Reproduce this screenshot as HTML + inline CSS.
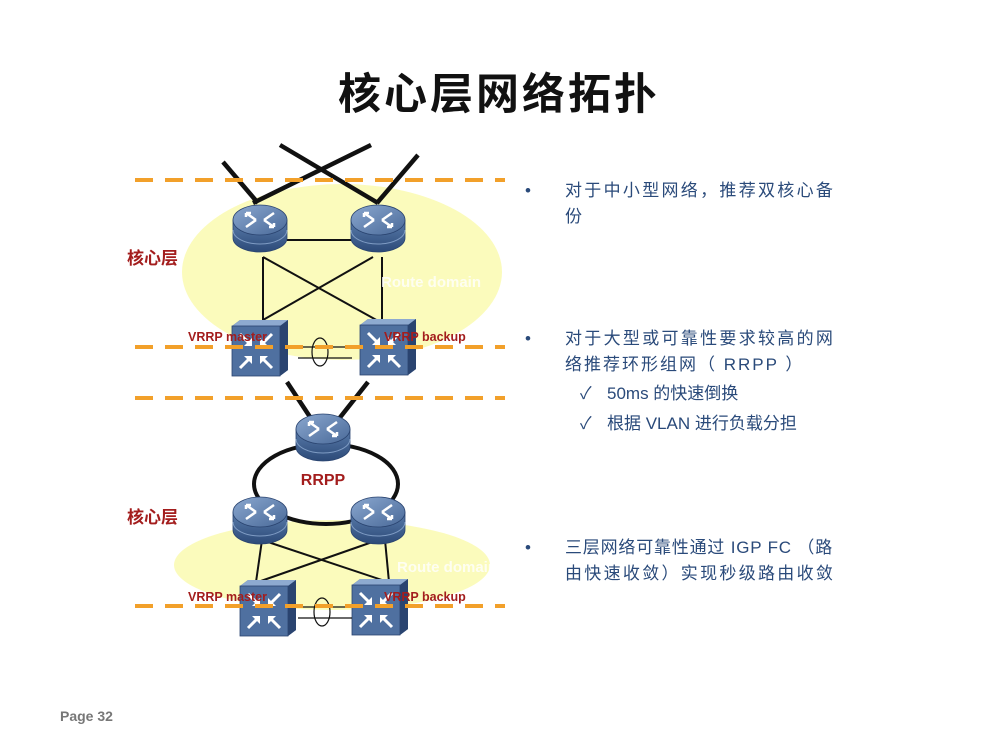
<!DOCTYPE html>
<html><head><meta charset="utf-8"><style>
body{margin:0;background:#fff;}
svg text{font-family:"Liberation Sans","Noto Sans CJK SC",sans-serif;}
</style></head><body>
<svg width="1000" height="750" viewBox="0 0 1000 750" xmlns="http://www.w3.org/2000/svg">
<defs>
<linearGradient id="rb" x1="0" x2="0" y1="0" y2="1"><stop offset="0" stop-color="#5a7cab"/><stop offset="1" stop-color="#2c4a78"/></linearGradient>
<linearGradient id="rt" x1="0" x2="1" y1="0" y2="1"><stop offset="0" stop-color="#8aa7cf"/><stop offset="1" stop-color="#4a6a99"/></linearGradient>
<g id="router">
<path d="M-27,-8 L-27,10 A27,14 0 0 0 27,10 L27,-8 Z" fill="url(#rb)" stroke="#2a4470" stroke-width="0.8"/>
<path d="M-27,2 A27,14 0 0 0 27,2" fill="none" stroke="#7f9cc4" stroke-width="1"/>
<ellipse cx="0" cy="-8" rx="27" ry="15" fill="url(#rt)" stroke="#2a4470" stroke-width="0.8"/>
<g stroke="#fff" stroke-width="2.5" fill="none">
<path d="M-14,-15 L-4,-8 M-14,-15 l5,0 M-14,-15 l0,4"/>
<path d="M14,-1 L4,-8 M14,-1 l-5,0 M14,-1 l0,-4"/>
<path d="M-14,-1 L-4,-8"/><path d="M14,-15 L4,-8"/>
</g>
</g>
<g id="switch">
<path d="M0,6 L8,0 L56,0 L56,50 L48,56 L0,56 Z" fill="#3d5f8e"/>
<path d="M0,6 L8,0 L56,0 L48,6 Z" fill="#8eaad0"/>
<path d="M48,6 L56,0 L56,50 L48,56 Z" fill="#2a4470"/>
<rect x="0" y="6" width="48" height="50" fill="#4f70a0" stroke="#2a4470" stroke-width="0.8"/>
<g stroke="#fff" stroke-width="3" fill="none">
<path d="M8,14 L19,25 M8,48 L19,37 M40,14 L29,25 M40,48 L29,37"/>
</g>
<g fill="#fff"><path d="M20,26 l-8,0 l8,-8z"/><path d="M20,36 l-8,0 l8,8z"/><path d="M28,26 l8,0 l-8,-8z"/><path d="M28,36 l8,0 l-8,8z"/></g>
</g>
</defs>

<text x="499" y="109" font-size="43" font-weight="bold" text-anchor="middle" fill="#111" letter-spacing="3">核心层网络拓扑</text>

<!-- top section -->
<ellipse cx="342" cy="272" rx="160" ry="88" fill="#fafab0" opacity="0.85"/>
<g stroke="#111" stroke-width="4.5">
<line x1="223" y1="162" x2="258" y2="203"/>
<line x1="280" y1="145" x2="378" y2="203"/>
<line x1="371" y1="145" x2="253" y2="203"/>
<line x1="418" y1="155" x2="377" y2="203"/>
</g>
<g stroke="#111" stroke-width="2">
<line x1="287" y1="240" x2="353" y2="240"/>
<line x1="263" y1="257" x2="263" y2="320"/>
<line x1="382" y1="257" x2="382" y2="322"/>
<line x1="263" y1="257" x2="380" y2="322"/>
<line x1="373" y1="257" x2="263" y2="320"/>
</g>
<use href="#router" x="260" y="228"/>
<use href="#router" x="378" y="228"/>
<use href="#switch" x="232" y="320"/>
<use href="#switch" x="360" y="319"/>
<g stroke="#111" stroke-width="1.2" fill="none">
<line x1="298" y1="347" x2="352" y2="347"/><line x1="298" y1="358" x2="352" y2="358"/>
<ellipse cx="320" cy="352" rx="8" ry="14"/>
</g>
<text x="381" y="287" font-size="15" font-weight="bold" fill="#fff" opacity="0.8">Route domain</text>
<line x1="135" y1="180" x2="505" y2="180" stroke="#f2a02a" stroke-width="4" stroke-dasharray="18,12"/>
<line x1="135" y1="347" x2="505" y2="347" stroke="#f2a02a" stroke-width="4" stroke-dasharray="18,12"/>
<text x="188" y="341" font-size="12.5" font-weight="bold" fill="#a31d1d">VRRP master</text>
<text x="384" y="341" font-size="12.5" font-weight="bold" fill="#a31d1d">VRRP backup</text>
<text x="127" y="264" font-size="17" font-weight="bold" fill="#a31d1d">核心层</text>

<!-- bottom section -->
<ellipse cx="332" cy="565" rx="158" ry="45" fill="#fafab0" opacity="0.85"/>
<g stroke="#111" stroke-width="4.5">
<line x1="287" y1="382" x2="312" y2="420"/>
<line x1="368" y1="382" x2="338" y2="420"/>
</g>
<ellipse cx="326" cy="484" rx="72" ry="40" fill="none" stroke="#111" stroke-width="4"/>
<g stroke="#111" stroke-width="2">
<line x1="262" y1="540" x2="256" y2="582"/>
<line x1="385" y1="540" x2="389" y2="582"/>
<line x1="262" y1="540" x2="388" y2="582"/>
<line x1="378" y1="540" x2="258" y2="582"/>
</g>
<use href="#router" x="323" y="437"/>
<use href="#router" x="260" y="520"/>
<use href="#router" x="378" y="520"/>
<use href="#switch" x="240" y="580"/>
<use href="#switch" x="352" y="579"/>
<g stroke="#111" stroke-width="1.2" fill="none">
<line x1="298" y1="607" x2="352" y2="607"/><line x1="298" y1="618" x2="352" y2="618"/>
<ellipse cx="322" cy="612" rx="8" ry="14"/>
</g>
<text x="397" y="572" font-size="15" font-weight="bold" fill="#fff" opacity="0.8">Route domain</text>
<text x="323" y="485" font-size="16" font-weight="bold" fill="#a31d1d" text-anchor="middle">RRPP</text>
<line x1="135" y1="398" x2="505" y2="398" stroke="#f2a02a" stroke-width="4" stroke-dasharray="18,12"/>
<line x1="135" y1="606" x2="505" y2="606" stroke="#f2a02a" stroke-width="4" stroke-dasharray="18,12"/>
<text x="188" y="601" font-size="12.5" font-weight="bold" fill="#a31d1d">VRRP master</text>
<text x="384" y="601" font-size="12.5" font-weight="bold" fill="#a31d1d">VRRP backup</text>
<text x="127" y="523" font-size="17" font-weight="bold" fill="#a31d1d">核心层</text>

<!-- right text -->
<g font-size="17" fill="#2a4a7a" letter-spacing="2">
<text x="525" y="196" letter-spacing="0">•</text>
<text x="565" y="196" letter-spacing="2.3">对于中小型网络，推荐双核心备</text>
<text x="565" y="222">份</text>
<text x="525" y="344" letter-spacing="0">•</text>
<text x="565" y="344" letter-spacing="2.3">对于大型或可靠性要求较高的网</text>
<text x="565" y="370">络推荐环形组网（ RRPP ）</text>
<text x="580" y="399" letter-spacing="0">✓</text>
<text x="607" y="399" letter-spacing="0">50ms 的快速倒换</text>
<text x="580" y="429" letter-spacing="0">✓</text>
<text x="607" y="429" letter-spacing="0">根据 VLAN 进行负载分担</text>
<text x="525" y="553" letter-spacing="0">•</text>
<text x="565" y="553" letter-spacing="0.8">三层网络可靠性通过 IGP FC （路</text>
<text x="565" y="579" letter-spacing="2.3">由快速收敛）实现秒级路由收敛</text>
</g>
<text x="60" y="721" font-size="14" font-weight="bold" fill="#777">Page 32</text>
</svg>
</body></html>
